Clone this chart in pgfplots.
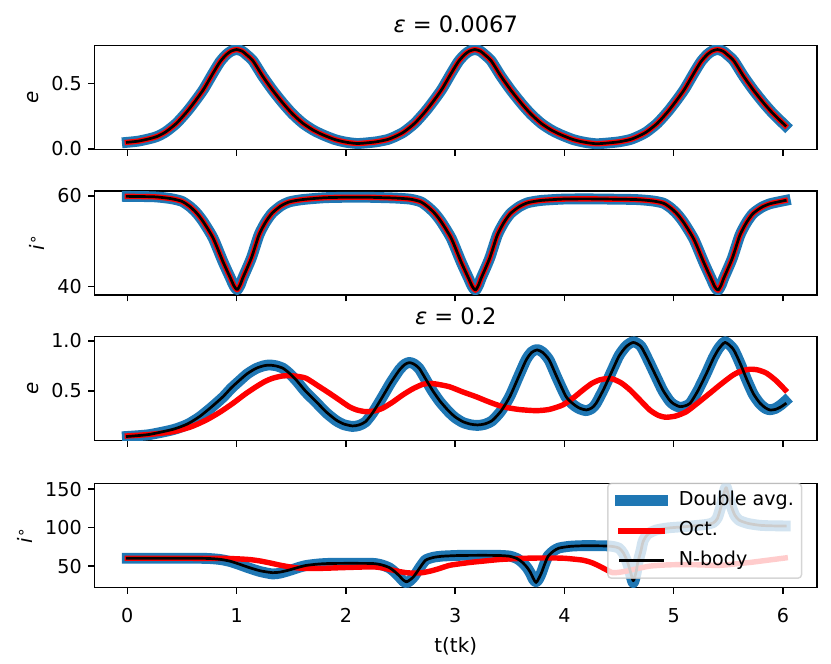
\documentclass[border=0pt]{standalone}
\usepackage{fontspec}
\setmainfont{DejaVu Sans}
\usepackage{pgfplots}
\pgfplotsset{compat=1.18}
\definecolor{tabblue}{HTML}{1F77B4}
\definecolor{legedge}{gray}{0.8}
\newcommand{\ideg}{\textit{i}\kern0.5pt\raisebox{0.62ex}{\fontsize{8.5}{9}\selectfont ∘}}

\pgfplotsset{
  panel/.style={
    scale only axis, width=400.2pt, height=57.6pt,
    xmin=-0.301, xmax=6.311,
    xtick={0,1,2,3,4,5,6},
    tick align=outside, tick pos=left,
    major tick length=3.5pt,
    every tick/.style={black, line width=0.8pt},
    axis line style={line width=0.8pt},
    /pgf/number format/assume math mode=true,
    ticklabel style={font=\fontsize{10.6}{12}\selectfont},
    xticklabel style={yshift=-4.5pt},
    label style={font=\fontsize{11}{13}\selectfont},
    xlabel style={yshift=-1pt},
    title style={font=\fontsize{12.5}{15}\selectfont, at={(0.5,1)}, anchor=base, yshift=0.8pt},
  },
  dbl/.style={tabblue, line width=6pt, line cap=rect, line join=round, smooth, tension=0.4},
  oct/.style={red, line width=3pt, line cap=rect, line join=round, smooth, tension=0.4},
  nb/.style={black, line width=1.5pt, line cap=rect, line join=round, smooth, tension=0.4},
}

\begin{document}
\begin{tikzpicture}
\path[use as bounding box] (0,0) rectangle (460.25pt,367.75pt);

% ---------------- Panel 1 : e, eps = 0.0067
\begin{axis}[panel, at={(52.3pt,285.1pt)}, anchor=south west,
  ymin=-0.002, ymax=0.795, ytick={0,0.5}, yticklabels={0.0,0.5},
  xticklabels={}, ylabel={\textit{e}},
  title={\textit{ε} = 0.0067}]
\pgfplotstableread{
t e
0.00 0.051
0.10 0.060
0.20 0.078
0.27 0.095
0.35 0.130
0.45 0.197
0.55 0.290
0.63 0.377
0.70 0.460
0.785 0.582
0.85 0.670
0.906 0.723
0.95 0.750
1.00 0.762
1.05 0.750
1.09 0.723
1.15 0.675
1.24 0.556
1.33 0.450
1.424 0.351
1.51 0.270
1.606 0.197
1.70 0.145
1.79 0.108
1.90 0.072
2.00 0.052
2.10 0.042
2.18 0.046
2.28 0.055
2.38 0.072
2.45 0.095
2.53 0.130
2.63 0.197
2.73 0.290
2.81 0.377
2.88 0.460
2.965 0.582
3.03 0.670
3.086 0.723
3.13 0.750
3.18 0.762
3.23 0.750
3.27 0.723
3.33 0.675
3.42 0.556
3.51 0.450
3.604 0.351
3.69 0.270
3.786 0.197
3.88 0.145
3.97 0.108
4.08 0.072
4.18 0.052
4.29 0.040
4.40 0.046
4.50 0.055
4.60 0.072
4.67 0.095
4.75 0.130
4.85 0.197
4.95 0.290
5.03 0.377
5.10 0.460
5.185 0.582
5.25 0.670
5.306 0.723
5.35 0.750
5.40 0.762
5.45 0.750
5.49 0.723
5.55 0.675
5.64 0.556
5.73 0.450
5.824 0.351
5.91 0.270
6.02 0.180
}\eA
\addplot[dbl] table[x=t,y=e] {\eA};
\addplot[oct] table[x=t,y=e] {\eA};
\addplot[nb] table[x=t,y=e] {\eA};
\end{axis}

% ---------------- Panel 2 : i, eps = 0.0067
\begin{axis}[panel, at={(52.3pt,204.4pt)}, anchor=south west,
  ymin=38.15, ymax=61.1, ytick={40,60},
  xticklabels={}, ylabel={\ideg}]
\pgfplotstableread{
t i
0.000 59.9
0.250 59.8
0.400 59.4
0.500 58.8
0.575 57.6
0.635 56.2
0.695 54.3
0.785 50.7
0.875 45.5
0.945 41.8
0.975 40.2
1.005 39.3
1.035 40.5
1.055 41.8
1.135 46.3
1.205 51.4
1.265 54.2
1.325 56.2
1.405 57.8
1.485 58.7
1.605 59.2
1.805 59.6
2.000 59.7
2.200 59.7
2.435 59.55
2.585 59.3
2.685 58.7
2.755 57.5
2.815 56.1
2.875 54.2
2.965 50.6
3.055 45.4
3.125 41.7
3.155 40.1
3.185 39.2
3.215 40.4
3.235 41.7
3.315 46.2
3.385 51.3
3.445 54.1
3.505 56.1
3.585 57.6
3.665 58.5
3.785 59.0
3.985 59.3
4.200 59.35
4.400 59.3
4.655 59.2
4.805 58.9
4.905 58.4
4.975 57.3
5.035 55.9
5.095 54.0
5.185 50.4
5.275 45.3
5.345 41.6
5.375 40.0
5.405 39.2
5.435 40.4
5.455 41.7
5.535 46.2
5.605 51.3
5.665 54.1
5.725 56.1
5.805 57.5
5.885 58.3
6.020 59.0
}\iA
\addplot[dbl] table[x=t,y=i] {\iA};
\addplot[oct] table[x=t,y=i] {\iA};
\addplot[nb] table[x=t,y=i] {\iA};
\end{axis}

% ---------------- Panel 3 : e, eps = 0.2
\begin{axis}[panel, at={(52.3pt,123.7pt)}, anchor=south west,
  ymin=0.003, ymax=1.043, ytick={0.5,1.0}, yticklabels={0.5,1.0},
  xticklabels={}, ylabel={\textit{e}},
  title={\textit{ε} = 0.2}]
\pgfplotstableread{
t e
0.00 0.045
0.20 0.065
0.42 0.117
0.55 0.170
0.66 0.243
0.77 0.340
0.876 0.443
0.95 0.530
1.03 0.610
1.10 0.675
1.18 0.727
1.25 0.752
1.30 0.758
1.36 0.750
1.424 0.727
1.48 0.680
1.545 0.610
1.63 0.500
1.728 0.393
1.82 0.290
1.91 0.210
1.98 0.170
2.06 0.150
2.12 0.160
2.18 0.193
2.25 0.290
2.336 0.443
2.41 0.580
2.49 0.710
2.54 0.765
2.58 0.783
2.62 0.770
2.67 0.727
2.73 0.620
2.79 0.510
2.86 0.400
2.94 0.300
3.00 0.240
3.07 0.193
3.14 0.168
3.205 0.160
3.27 0.170
3.34 0.205
3.42 0.300
3.50 0.443
3.58 0.640
3.65 0.810
3.70 0.885
3.75 0.910
3.80 0.885
3.86 0.810
3.93 0.640
4.015 0.443
4.08 0.370
4.14 0.327
4.20 0.310
4.25 0.330
4.29 0.377
4.36 0.520
4.44 0.710
4.50 0.850
4.565 0.943
4.63 0.985
4.70 0.943
4.77 0.800
4.84 0.643
4.90 0.510
4.96 0.410
5.00 0.370
5.055 0.343
5.10 0.350
5.15 0.377
5.22 0.500
5.30 0.677
5.36 0.820
5.41 0.917
5.47 0.985
5.545 0.917
5.61 0.770
5.67 0.610
5.73 0.470
5.79 0.377
5.84 0.330
5.88 0.310
5.93 0.315
5.98 0.340
6.02 0.370
}\eN
\pgfplotstableread{
t e
0.00 0.045
0.20 0.063
0.42 0.113
0.55 0.165
0.66 0.238
0.77 0.335
0.876 0.438
0.95 0.525
1.03 0.605
1.10 0.672
1.18 0.725
1.25 0.752
1.30 0.760
1.36 0.752
1.424 0.727
1.48 0.678
1.545 0.605
1.63 0.492
1.728 0.385
1.82 0.282
1.91 0.203
1.98 0.163
2.06 0.145
2.12 0.155
2.18 0.190
2.25 0.288
2.336 0.443
2.41 0.582
2.49 0.713
2.54 0.768
2.58 0.785
2.62 0.772
2.67 0.725
2.73 0.615
2.79 0.502
2.86 0.392
2.94 0.292
3.00 0.232
3.07 0.185
3.14 0.162
3.205 0.155
3.27 0.166
3.34 0.203
3.42 0.300
3.50 0.445
3.58 0.645
3.65 0.815
3.70 0.890
3.75 0.915
3.80 0.888
3.86 0.808
3.93 0.635
4.015 0.438
4.08 0.362
4.14 0.320
4.20 0.303
4.25 0.325
4.29 0.375
4.36 0.522
4.44 0.715
4.50 0.855
4.565 0.950
4.63 0.992
4.70 0.948
4.77 0.800
4.84 0.638
4.90 0.502
4.96 0.402
5.00 0.362
5.055 0.336
5.10 0.345
5.15 0.375
5.22 0.502
5.30 0.682
5.36 0.828
5.41 0.925
5.47 0.992
5.545 0.920
5.61 0.768
5.67 0.605
5.73 0.462
5.79 0.370
5.84 0.325
5.88 0.312
5.93 0.325
5.98 0.360
6.02 0.398
}\eD
\pgfplotstableread{
t e
0.00 0.050
0.20 0.065
0.42 0.093
0.58 0.140
0.724 0.210
0.85 0.290
0.967 0.377
1.08 0.470
1.18 0.543
1.26 0.595
1.33 0.627
1.41 0.648
1.484 0.653
1.56 0.645
1.636 0.627
1.74 0.555
1.85 0.477
1.94 0.410
2.03 0.343
2.10 0.310
2.18 0.293
2.26 0.300
2.336 0.327
2.43 0.390
2.52 0.460
2.61 0.520
2.70 0.565
2.76 0.575
2.82 0.570
2.945 0.543
3.07 0.490
3.19 0.443
3.31 0.390
3.434 0.343
3.58 0.315
3.74 0.303
3.86 0.315
3.985 0.360
4.08 0.430
4.17 0.510
4.25 0.575
4.32 0.610
4.38 0.622
4.44 0.620
4.52 0.580
4.60 0.510
4.69 0.410
4.78 0.310
4.86 0.255
4.93 0.237
5.02 0.250
5.116 0.293
5.22 0.380
5.33 0.477
5.44 0.575
5.544 0.660
5.62 0.700
5.70 0.717
5.77 0.710
5.85 0.677
5.94 0.600
6.02 0.510
}\eO
\addplot[dbl] table[x=t,y=e] {\eD};
\addplot[oct] table[x=t,y=e] {\eO};
\addplot[nb] table[x=t,y=e] {\eN};
\end{axis}

% ---------------- Panel 4 : i, eps = 0.2
\begin{axis}[panel, at={(52.3pt,42.4pt)}, anchor=south west,
  ymin=22.3, ymax=157.4, ytick={50,100,150},
  xlabel={t(tk)}, ylabel={\ideg},
  legend cell align=left,
  legend image code/.code={\draw[#1,opacity=1] (0pt,0pt) -- (22.9pt,0pt); \path[draw=none] (0pt,0pt) (32.1pt,0pt);},
  legend style={at={(0.9796,1.0072)}, anchor=north east,
    font=\fontsize{10.6}{13}\selectfont,
    fill=white, fill opacity=0.8, draw opacity=0.8, text opacity=1,
    draw=legedge, line width=0.8pt, rounded corners=2pt,
    inner xsep=4.2pt, inner ysep=4.4pt, row sep=6.1pt, column sep=0pt,
    nodes={inner sep=0pt, text height=8pt, text depth=2.5pt}}]
\pgfplotstableread{
t i
0.00 60.2
0.50 60.2
0.73 60.0
0.85 58.8
0.94 56.4
1.03 52.3
1.12 47.9
1.22 43.8
1.33 41.5
1.40 42.3
1.48 44.9
1.56 48.2
1.636 50.9
1.75 52.7
1.85 53.4
2.00 53.6
2.245 53.4
2.33 51.5
2.40 47.9
2.45 42.5
2.49 37.2
2.525 32.0
2.555 29.6
2.59 32.5
2.625 37.2
2.68 48.5
2.73 57.7
2.80 61.2
2.88 62.8
3.04 63.8
3.25 64.0
3.40 63.8
3.50 62.8
3.57 59.5
3.62 54.3
3.66 48.0
3.69 41.5
3.715 34.0
3.74 28.7
3.765 34.0
3.79 41.5
3.82 53.0
3.85 62.8
3.90 69.5
3.95 73.4
4.05 75.6
4.17 76.4
4.38 76.2
4.45 75.3
4.50 73.4
4.54 67.0
4.58 54.3
4.605 42.0
4.63 31.0
4.655 42.0
4.67 54.0
4.70 70.0
4.72 82.0
4.76 91.0
4.84 96.8
4.95 99.5
5.085 101.0
5.20 102.5
5.30 104.0
5.36 106.0
5.40 112.0
5.44 131.0
5.46 145.0
5.48 152.0
5.50 142.0
5.53 126.6
5.56 116.0
5.60 109.6
5.68 105.5
5.79 103.0
5.90 102.3
6.02 102.0
}\iN
\pgfplotstableread{
t i
0.00 60.2
0.50 60.2
0.73 60.0
0.85 58.6
0.94 56.0
1.03 51.8
1.12 47.2
1.22 42.8
1.33 39.8
1.40 41.0
1.48 44.2
1.56 47.9
1.636 50.8
1.75 52.8
1.85 53.6
2.00 53.8
2.245 53.6
2.33 51.5
2.40 47.5
2.45 41.8
2.49 36.0
2.525 30.5
2.555 28.5
2.59 31.5
2.625 36.8
2.68 48.8
2.73 58.0
2.80 61.5
2.88 63.0
3.04 64.0
3.25 64.2
3.40 64.0
3.50 63.0
3.57 59.5
3.62 54.0
3.66 47.5
3.69 40.5
3.715 33.0
3.74 29.5
3.765 33.5
3.79 41.5
3.82 53.5
3.85 63.0
3.90 69.8
3.95 73.6
4.05 75.8
4.17 76.6
4.38 76.4
4.45 75.4
4.50 73.2
4.54 66.0
4.58 52.5
4.605 39.5
4.63 28.5
4.655 40.5
4.67 53.5
4.70 70.0
4.72 82.5
4.76 91.5
4.84 97.0
4.95 99.7
5.085 101.2
5.20 102.7
5.30 104.2
5.36 106.5
5.40 113.0
5.44 132.0
5.46 146.0
5.48 152.5
5.50 142.5
5.53 126.5
5.56 115.5
5.60 109.4
5.68 105.4
5.79 103.0
5.90 102.4
6.02 102.2
}\iD
\pgfplotstableread{
t i
0.00 60.2
0.50 60.2
0.88 60.0
1.00 59.5
1.12 58.5
1.21 56.8
1.30 54.3
1.39 51.5
1.48 49.1
1.56 47.6
1.636 47.0
1.80 47.2
1.94 47.9
2.10 48.6
2.245 49.1
2.33 47.8
2.40 45.7
2.48 43.2
2.55 41.5
2.62 40.9
2.70 41.5
2.78 43.8
2.85 46.6
2.945 50.9
3.04 53.0
3.15 55.0
3.25 56.4
3.40 58.5
3.56 59.8
3.70 60.4
3.86 60.6
4.00 60.2
4.17 57.7
4.25 54.5
4.32 50.0
4.38 45.5
4.44 41.5
4.50 42.0
4.57 43.6
4.66 46.5
4.78 50.0
4.93 51.5
5.085 52.0
5.25 51.6
5.39 50.9
5.50 51.8
5.60 53.4
5.70 54.8
5.79 56.4
5.90 58.4
6.02 60.6
}\iO
\addplot[dbl] table[x=t,y=i] {\iD};
\addlegendentry{Double avg.}
\addplot[oct] table[x=t,y=i] {\iO};
\addlegendentry{Oct.}
\addplot[nb] table[x=t,y=i] {\iN};
\addlegendentry{N-body}
\end{axis}
\end{tikzpicture}
\end{document}
